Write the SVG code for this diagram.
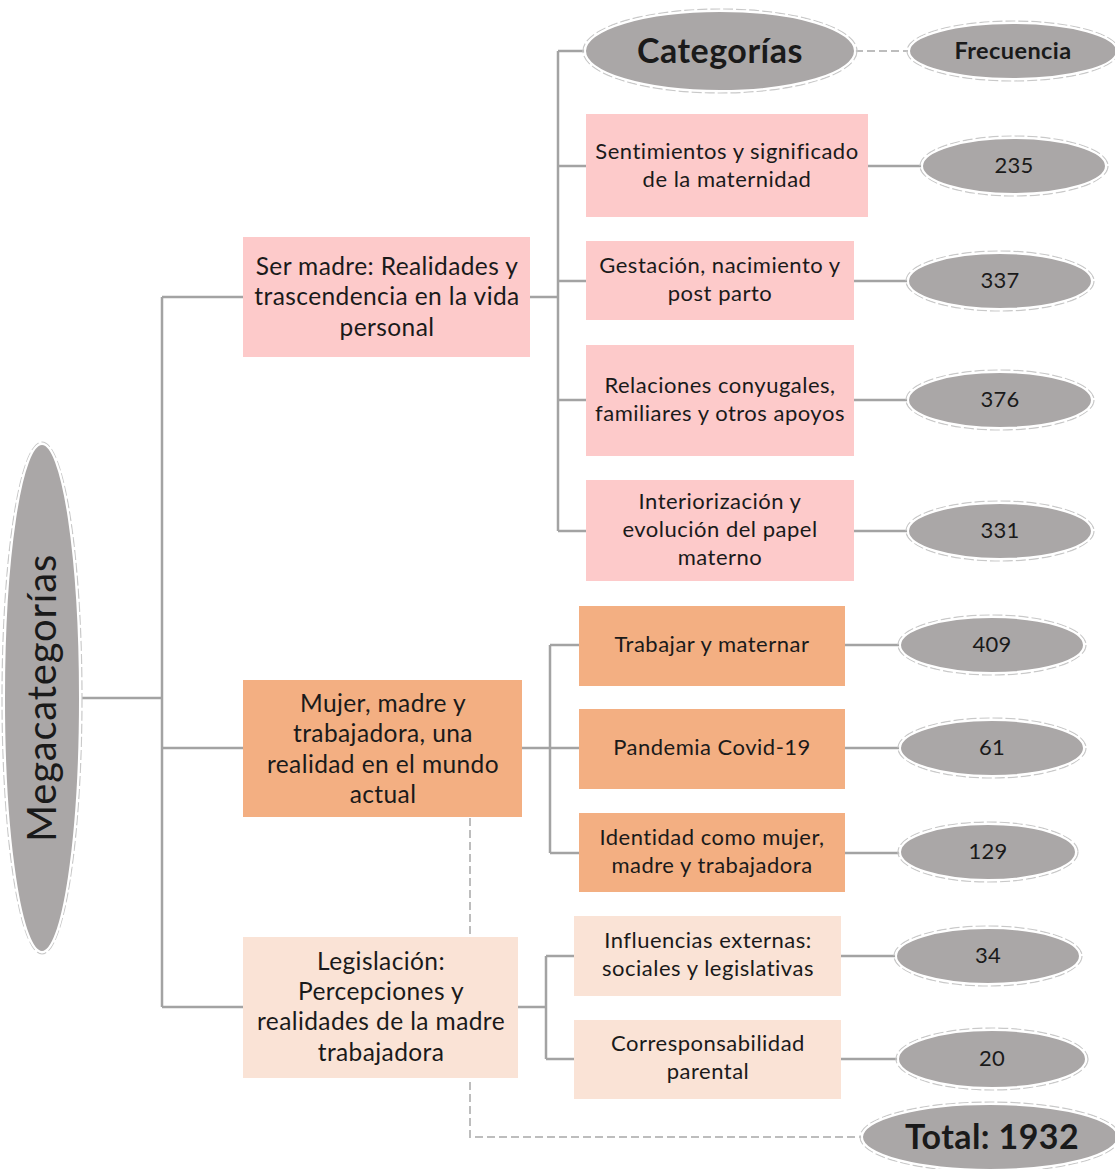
<svg xmlns="http://www.w3.org/2000/svg" width="1115" height="1169" viewBox="0 0 1115 1169">
<style>
text{font-family:Lato,"Open Sans","Liberation Sans",sans-serif;fill:#1a1a1a;text-anchor:middle}
.t{font-size:24.5px;letter-spacing:0.4px}
.s{font-size:22px;letter-spacing:0.5px}
.n{font-size:22px;letter-spacing:0.3px}
.b{font-weight:bold}
.ell{fill:#AAA7A7;stroke:#ffffff;stroke-width:2}
.ring{fill:none;stroke:#C9C9C9;stroke-width:1.2;stroke-dasharray:10 3}
.pk{fill:#FDCACA}
.or{fill:#F3AF82}
.lt{fill:#FAE3D6}
.ln{fill:none;stroke:#A3A3A3;stroke-width:2.5}
.dl{fill:none;stroke:#BDBDBD;stroke-width:2;stroke-dasharray:8 4}
</style>
<rect width="1115" height="1169" fill="#ffffff"/>
<g id="connectors">
<path class="ln" d="M82 698H162M162 297V1007M162 297H243M162 748H243M162 1007H243"/>
<path class="ln" d="M530 297H558M558 51V531M558 51H586M558 166H586M558 281H586M558 400H586M558 531H586"/>
<path class="ln" d="M868 166H922M854 281H908M854 400H908M854 531H908"/>
<path class="ln" d="M522 748H550M550 645V853M550 645H579M550 748H579M550 853H579"/>
<path class="ln" d="M845 645H900M845 748H900M845 853H900"/>
<path class="ln" d="M518 1007H546M546 956V1059M546 956H574M546 1059H574"/>
<path class="ln" d="M841 956H896M841 1059H900"/>
<path class="dl" d="M855 51H908"/>
<path class="dl" d="M470 818V1137H862"/>
</g>
<g id="megacategorias">
<ellipse class="ring" cx="42" cy="698" rx="40" ry="256"/>
<ellipse class="ell" cx="42" cy="698" rx="38" ry="254"/>
<text x="42" y="698" transform="rotate(-90 42 698)" dy="14" style="font-size:40px;letter-spacing:0.8px">Megacategorías</text>
</g>
<g id="categorias">
<ellipse class="ring" cx="720" cy="51" rx="137" ry="42"/>
<ellipse class="ell" cx="720" cy="51" rx="135" ry="40"/>
<text x="720" y="63" class="b" style="font-size:34px;letter-spacing:0.5px">Categorías</text>
</g>
<g id="frecuencia">
<ellipse class="ring" cx="1013" cy="51" rx="106" ry="30"/>
<ellipse class="ell" cx="1013" cy="51" rx="104" ry="28"/>
<text x="1013" y="59" class="b" style="font-size:23.5px;letter-spacing:0.4px">Frecuencia</text>
</g>
<g id="ser-madre">
<rect class="pk" x="243" y="237" width="287" height="120"/>
<text class="t" x="387" y="275">Ser madre: Realidades y</text>
<text class="t" x="387" y="305">trascendencia en la vida</text>
<text class="t" x="387" y="336">personal</text>
</g>
<g id="sentimientos">
<rect class="pk" x="586" y="114" width="282" height="103"/>
<text class="s" x="727" y="159">Sentimientos y significado</text>
<text class="s" x="727" y="187">de la maternidad</text>
</g>
<g id="gestacion">
<rect class="pk" x="586" y="241" width="268" height="79"/>
<text class="s" x="720" y="273">Gestación, nacimiento y</text>
<text class="s" x="720" y="301">post parto</text>
</g>
<g id="relaciones">
<rect class="pk" x="586" y="345" width="268" height="111"/>
<text class="s" x="720" y="393">Relaciones conyugales,</text>
<text class="s" x="720" y="421">familiares y otros apoyos</text>
</g>
<g id="interiorizacion">
<rect class="pk" x="586" y="480" width="268" height="101"/>
<text class="s" x="720" y="509">Interiorización y</text>
<text class="s" x="720" y="537">evolución del papel</text>
<text class="s" x="720" y="565">materno</text>
</g>
<g id="mujer">
<rect class="or" x="243" y="680" width="279" height="137"/>
<text class="t" x="383" y="712">Mujer, madre y</text>
<text class="t" x="383" y="742">trabajadora, una</text>
<text class="t" x="383" y="773">realidad en el mundo</text>
<text class="t" x="383" y="803">actual</text>
</g>
<g id="trabajar">
<rect class="or" x="579" y="606" width="266" height="80"/>
<text class="s" x="712" y="652">Trabajar y maternar</text>
</g>
<g id="pandemia">
<rect class="or" x="579" y="709" width="266" height="80"/>
<text class="s" x="712" y="755">Pandemia Covid-19</text>
</g>
<g id="identidad">
<rect class="or" x="579" y="813" width="266" height="79"/>
<text class="s" x="712" y="845">Identidad como mujer,</text>
<text class="s" x="712" y="873">madre y trabajadora</text>
</g>
<g id="legislacion">
<rect class="lt" x="243" y="937" width="275" height="141"/>
<text class="t" x="381" y="970">Legislación:</text>
<text class="t" x="381" y="1000">Percepciones y</text>
<text class="t" x="381" y="1030">realidades de la madre</text>
<text class="t" x="381" y="1061">trabajadora</text>
</g>
<g id="influencias">
<rect class="lt" x="574" y="916" width="267" height="80"/>
<text class="s" x="708" y="948">Influencias externas:</text>
<text class="s" x="708" y="976">sociales y legislativas</text>
</g>
<g id="corresponsabilidad">
<rect class="lt" x="574" y="1020" width="267" height="79"/>
<text class="s" x="708" y="1051">Corresponsabilidad</text>
<text class="s" x="708" y="1079">parental</text>
</g>
<g id="f235"><ellipse class="ring" cx="1014" cy="166" rx="94" ry="30"/><ellipse class="ell" cx="1014" cy="166" rx="92" ry="28"/><text class="n" x="1014" y="173">235</text></g>
<g id="f337"><ellipse class="ring" cx="1000" cy="281" rx="94" ry="30"/><ellipse class="ell" cx="1000" cy="281" rx="92" ry="28"/><text class="n" x="1000" y="288">337</text></g>
<g id="f376"><ellipse class="ring" cx="1000" cy="400" rx="94" ry="30"/><ellipse class="ell" cx="1000" cy="400" rx="92" ry="28"/><text class="n" x="1000" y="407">376</text></g>
<g id="f331"><ellipse class="ring" cx="1000" cy="531" rx="94" ry="30"/><ellipse class="ell" cx="1000" cy="531" rx="92" ry="28"/><text class="n" x="1000" y="538">331</text></g>
<g id="f409"><ellipse class="ring" cx="992" cy="645" rx="94" ry="30"/><ellipse class="ell" cx="992" cy="645" rx="92" ry="28"/><text class="n" x="992" y="652">409</text></g>
<g id="f61"><ellipse class="ring" cx="992" cy="748" rx="94" ry="30"/><ellipse class="ell" cx="992" cy="748" rx="92" ry="28"/><text class="n" x="992" y="755">61</text></g>
<g id="f129"><ellipse class="ring" cx="988" cy="852" rx="90" ry="30"/><ellipse class="ell" cx="988" cy="852" rx="88" ry="28"/><text class="n" x="988" y="859">129</text></g>
<g id="f34"><ellipse class="ring" cx="988" cy="956" rx="94" ry="30"/><ellipse class="ell" cx="988" cy="956" rx="92" ry="28"/><text class="n" x="988" y="963">34</text></g>
<g id="f20"><ellipse class="ring" cx="992" cy="1059" rx="96" ry="31"/><ellipse class="ell" cx="992" cy="1059" rx="94" ry="29"/><text class="n" x="992" y="1066">20</text></g>
<g id="total"><ellipse class="ring" cx="990" cy="1137" rx="130" ry="35"/><ellipse class="ell" cx="990" cy="1137" rx="128" ry="33"/><text class="b" x="992" y="1149" style="font-size:34px;letter-spacing:0.4px">Total: 1932</text></g>
</svg>
